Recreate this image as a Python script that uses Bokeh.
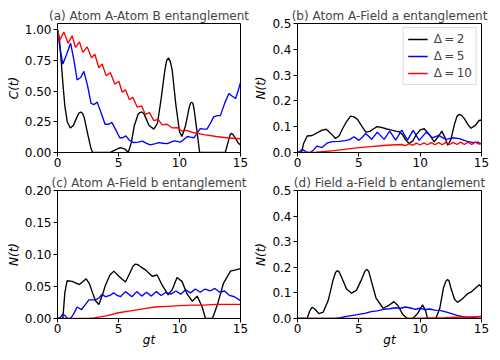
from bokeh.plotting import figure
from bokeh.layouts import gridplot
from bokeh.models import Range1d, FixedTicker, PrintfTickFormatter, Legend, LegendItem
from bokeh.embed import file_html
from bokeh.resources import INLINE

FONT = "DejaVu Sans"
NAN = float("nan")

# ---------------- data ----------------
# (a) Atom A - Atom B entanglement, C(t)
a_k_t = [0, 0.15, 0.3, 0.45, 0.6, 0.8, 1.05, 1.3, 1.6, 1.75, 1.9, 2.05, 2.2, 2.5, 2.75, 2.88, 4.3, 4.7, 5.15, 5.5, 5.8,
         6.05, 6.3, 6.6, 6.75, 6.9, 7.05, 7.2, 7.5, 7.9, 8.2, 8.5, 8.8, 8.95, 9.1, 9.25, 9.4, 9.7, 10.0, 10.2, 10.5,
         10.8, 10.9, 11.0, 11.1, 11.2, 11.45, 11.65, 13.75, 14.0, 14.15, 14.25, 14.35, 14.5, 14.8, 15.0]
a_k_v = [1.0, 0.93, 0.75, 0.55, 0.38, 0.25, 0.2, 0.22, 0.29, 0.32, 0.33, 0.32, 0.28, 0.14, 0.03, 0.0, 0.0, 0.02, 0.04, 0.03, 0.0,
         0.08, 0.22, 0.31, 0.325, 0.33, 0.32, 0.29, 0.22, 0.19, 0.24, 0.44, 0.67, 0.75, 0.77, 0.74, 0.67, 0.39, 0.17, 0.13, 0.22,
         0.37, 0.4, 0.41, 0.4, 0.35, 0.16, 0.0, 0.0, 0.09, 0.145, 0.155, 0.15, 0.13, 0.08, 0.06]
a_b_t = [0, 0.2, 0.44, 0.75, 1.07, 1.35, 1.61, 1.9, 2.16, 2.45, 2.75, 3.0, 3.25, 3.55, 3.9, 4.2, 4.45, 4.8,
         5.1, 5.35, 5.6, 5.9, 6.25, 6.6, 6.95, 7.3, 7.6, 7.95, 8.3, 8.65, 9.0, 9.3, 9.55, 9.8, 10.1, 10.4,
         10.65, 10.9, 11.2, 11.45, 11.7, 12.0, 12.25, 12.55, 12.8, 13.1, 13.35, 13.7, 14.05, 14.3, 14.6, 14.8, 15.0]
a_b_v = [1.0, 0.85, 0.72, 0.8, 0.89, 0.75, 0.59, 0.61, 0.66, 0.55, 0.4, 0.39, 0.41, 0.33, 0.23, 0.23, 0.245, 0.18,
         0.12, 0.12, 0.135, 0.1, 0.08, 0.085, 0.092, 0.075, 0.062, 0.07, 0.08, 0.075, 0.072, 0.085, 0.094, 0.09, 0.085, 0.11,
         0.13, 0.125, 0.12, 0.16, 0.195, 0.19, 0.19, 0.24, 0.29, 0.3, 0.3, 0.4, 0.48, 0.46, 0.44, 0.5, 0.57]
a_r_t = [0, 0.16, 0.52, 0.87, 1.2, 1.48, 1.8, 2.08, 2.43, 2.79, 3.06, 3.39, 3.66, 3.99, 4.34, 4.7, 5.03, 5.3,
         5.57, 5.9, 6.17, 6.53, 6.89, 7.2, 7.54, 7.9, 8.25, 8.58, 8.99, 9.4, 9.8, 10.2, 10.6, 11.0, 11.6, 12.0,
         13.0, 14.0, 15.0]
a_r_v = [1.0, 0.91, 0.98, 0.89, 0.95, 0.855, 0.9, 0.815, 0.86, 0.77, 0.8, 0.69, 0.72, 0.625, 0.65, 0.556, 0.58, 0.49,
         0.51, 0.43, 0.45, 0.37, 0.38, 0.31, 0.325, 0.26, 0.27, 0.225, 0.23, 0.2, 0.203, 0.175, 0.18, 0.165, 0.154, 0.145,
         0.13, 0.118, 0.112]

# (b) Atom A - Field a entanglement, N(t)
b_k_t = [0, 0.33, 0.5, 0.79, 1.2, 1.74, 2.0, 2.34, 2.7, 3.1, 3.4, 3.65, 4.0, 4.33, 4.6, 4.88, 5.2, 5.56, 5.9,
         6.2, 6.5, 6.85, 7.2, 7.6, 8.0, 8.3, 8.55, 8.8, 9.1, 9.4, 9.7, 10.0, 10.33, 10.74, 11.14, 11.45, 11.77,
         12.0, 12.25, 12.5, 12.8, 13.0, 13.19, 13.4, 13.6, 13.9, 14.14, 14.5, 14.8, 15.0]
b_k_v = [0, 0, 0.035, 0.064, 0.066, 0.08, 0.087, 0.09, 0.075, 0.054, 0.065, 0.09, 0.12, 0.141, 0.138, 0.129, 0.105, 0.079, 0.082,
         0.092, 0.1, 0.097, 0.092, 0.088, 0.083, 0.08, 0.07, 0.05, 0.035, 0.045, 0.07, 0.088, 0.092, 0.07, 0.041, 0.06, 0.083,
         0.06, 0.028, 0.05, 0.11, 0.14, 0.148, 0.143, 0.131, 0.108, 0.094, 0.105, 0.124, 0.126]
b_b_t = [0, 0.2, 0.38, 0.6, 0.8, 1.06, 1.35, 1.6, 2.0, 2.4, 2.83, 3.4, 3.9, 4.25, 4.6, 5.0, 5.3, 5.56, 6.05,
         6.5, 7.06, 7.52, 8.0, 8.5, 8.96, 9.43, 9.92, 10.5, 11.0, 11.5, 12.1, 12.64, 13.2, 13.7, 14.3, 14.7, 15.0]
b_b_v = [0, 0.005, 0.012, 0.006, 0, 0, 0.012, 0.025, 0.019, 0.036, 0.042, 0.043, 0.046, 0.05, 0.061, 0.047, 0.06, 0.074, 0.051,
         0.079, 0.051, 0.083, 0.048, 0.087, 0.048, 0.086, 0.047, 0.079, 0.057, 0.066, 0.051, 0.057, 0.054, 0.045, 0.038, 0.04, 0.032]
b_r_t = [0, 1.0, 1.5, 2.0, 3.0, 4.0, 5.0, 6.0, 7.0, 8.0, 8.5, 8.8, 9.1, 9.4, 9.7, 10.0, 10.3, 10.6, 10.9,
         11.2, 11.5, 11.8, 12.1, 12.4, 12.7, 13.0, 13.3, 13.6, 13.9, 14.2, 14.5, 14.8, 15.0]
b_r_v = [0, 0, 0.001, 0.003, 0.007, 0.013, 0.019, 0.023, 0.027, 0.03, 0.031, 0.027, 0.034, 0.028, 0.036, 0.029, 0.037, 0.03, 0.038,
         0.03, 0.038, 0.03, 0.039, 0.031, 0.039, 0.031, 0.04, 0.031, 0.04, 0.031, 0.04, 0.032, 0.036]

# (c) Atom A - Field b entanglement, N(t)
c_k_t = [0, 0.44, 0.6, 0.79, 1.2, 1.8, 2.35, 2.6, 2.84, 3.1, 3.39, 3.65, 3.93, 4.3, 4.62, 5.03, 5.57, 5.9,
         6.2, 6.39, 6.6, 6.8, 7.2, 7.76, 8.17, 8.58, 9.07, 9.4, 9.8, 10.2, 10.63, 11.04, 11.45, 11.86, 12.13, 12.7, 13.1,
         13.6, 14.18, 14.6, 15.0]
c_k_v = [0, 0, 0.04, 0.059, 0.058, 0.053, 0.062, 0.055, 0.042, 0.028, 0.022, 0.035, 0.052, 0.068, 0.074, 0.066, 0.057, 0.07,
         0.082, 0.085, 0.084, 0.081, 0.076, 0.066, 0.068, 0.052, 0.037, 0.045, 0.064, 0.058, 0.038, 0.027, 0.035, 0.018, 0, 0, 0.021,
         0.055, 0.074, 0.076, 0.078]
c_b_t = [0, 0.25, 0.44, 0.65, 0.8, 1.07, 1.35, 1.6, 1.97, 2.3, 2.57, 3.1, 3.4, 3.66, 3.93, 4.3, 4.6, 4.9, 5.16,
         5.57, 6.1, 6.5, 6.9, 7.3, 7.7, 8.1, 8.5, 8.9, 9.3, 9.7, 10.1, 10.5, 10.9, 11.3, 11.7, 12.1, 12.5, 12.9,
         13.3, 13.7, 14.1, 14.5, 15.0]
c_b_v = [0, 0.002, 0.007, 0.004, 0, 0, 0.008, 0.018, 0.014, 0.022, 0.029, 0.029, 0.032, 0.038, 0.034, 0.036, 0.04, 0.036, 0.034,
         0.042, 0.034, 0.042, 0.035, 0.041, 0.035, 0.042, 0.036, 0.041, 0.038, 0.043, 0.038, 0.045, 0.04, 0.046, 0.041, 0.046, 0.043, 0.047,
         0.041, 0.043, 0.036, 0.034, 0.028]
c_r_t = [0, 2.5, 3.0, 4.0, 5.0, 6.0, 7.0, 8.0, 9.0, 10.0, 11.0, 12.0, 13.0, 14.0, 15.0]
c_r_v = [0, 0, 0.001, 0.004, 0.009, 0.012, 0.015, 0.018, 0.019, 0.02, 0.021, 0.021, 0.022, 0.022, 0.022]

# (d) Field a - Field b entanglement, N(t)
d_k_t = [0, 0.79, 1.0, 1.2, 1.45, 1.74, 2.1, 2.5, 2.9, 3.1, 3.24, 3.4, 3.6, 4.0, 4.41, 4.8, 5.2, 5.5, 5.64, 5.8, 6.0, 6.4, 6.98,
         7.4, 7.87, 8.2, 8.56, 8.96, 9.4, 9.8, 10.19, 10.45, 10.6, 11.28, 11.6, 11.9, 12.1, 12.23, 12.35, 12.5, 12.8, 13.05,
         13.4, 13.87, 14.2, 14.5, 14.82, 15.0]
d_k_v = [0, 0, 0.03, 0.044, 0.035, 0.019, 0.025, 0.07, 0.15, 0.18, 0.187, 0.182, 0.16, 0.115, 0.099, 0.11, 0.15, 0.185, 0.192, 0.185, 0.15, 0.08, 0.04,
         0.05, 0.066, 0.05, 0.017, 0.0, 0.0, 0.02, 0.053, 0.03, 0, 0, 0.04, 0.12, 0.146, 0.152, 0.147, 0.12, 0.075, 0.063,
         0.075, 0.097, 0.105, 0.118, 0.132, 0.123]
d_b_t = [0, 3.0, 3.5, 4.0, 4.5, 5.0, 5.5, 6.0, 6.5, 7.0, 7.5, 8.0, 8.4, 8.8, 9.2, 9.6, 10.0, 10.4, 10.8,
         11.2, 11.6, 12.0, 12.5, 13.0, 13.5, 14.0, 14.5, 15.0]
d_b_v = [0, 0, 0.003, 0.008, 0.012, 0.016, 0.02, 0.027, 0.03, 0.036, 0.038, 0.042, 0.04, 0.045, 0.041, 0.036, 0.04, 0.035, 0.037,
         0.033, 0.032, 0.027, 0.02, 0.012, 0.007, 0.004, 0.002, 0.0]
d_r_t = [0, 9.0, 10.0, 11.0, 12.0, 13.0, 14.0, 15.0]
d_r_v = [0, 0.0, 0.001, 0.002, 0.003, 0.005, 0.006, 0.008]

x_ticks = [0, 5, 10, 15]
legend_labels = ["Δ\u2009=\u20092", "Δ\u2009=\u20095", "Δ\u2009=\u200910"]
colors = ["#000000", "#0000ff", "#ff0000"]


def make_fig(width, height, left, right, top, bottom, yr, yticks, yfmt, ylabel, title, xlabel=None):
    p = figure(width=width, height=height, x_range=Range1d(0, 15), y_range=Range1d(*yr),
               output_backend="svg", toolbar_location=None,
               min_border_left=left, min_border_right=right,
               min_border_top=top, min_border_bottom=bottom)
    p.title.text = title
    p.title.align = "center"
    p.title.text_font = FONT
    p.title.text_font_size = "12px"
    p.title.text_font_style = "normal"
    p.title.standoff = 1
    p.title.offset = 0
    p.grid.visible = False
    p.outline_line_color = "black"
    p.outline_line_alpha = 1
    p.outline_line_width = 1
    p.xaxis.ticker = FixedTicker(ticks=x_ticks)
    p.yaxis.ticker = FixedTicker(ticks=yticks)
    p.yaxis.formatter = PrintfTickFormatter(format=yfmt)
    for ax in p.xaxis + p.yaxis:
        ax.minor_tick_line_color = None
        ax.major_tick_in = 0
        ax.major_tick_out = 4
        ax.major_label_standoff = 2
        ax.major_label_text_font = FONT
        ax.major_label_text_font_size = "12px"
        ax.major_label_text_color = "black"
        ax.axis_line_color = "black"
        ax.major_tick_line_color = "black"
        ax.axis_label_text_font = FONT
        ax.axis_label_text_font_size = "12px"
        ax.axis_label_text_font_style = "italic"
        ax.axis_label_text_color = "black"
        ax.axis_label_standoff = 1
    p.xaxis.major_label_standoff = 1
    p.xaxis.axis_label_standoff = -3
    p.yaxis.axis_label = ylabel
    if xlabel:
        p.xaxis.axis_label = xlabel
    p.background_fill_color = "white"
    p.border_fill_color = "white"
    return p


def draw(p, series):
    for (t, v), c in zip(series, colors):
        p.line(t, v, line_color=c, line_width=1.35)


pa = make_fig(250, 170, 57, 10, 23, 18, (0, 1.05), [0, 0.25, 0.5, 0.75, 1.0], "%.2f", "C(t)",
              "(a) Atom A-Atom B entanglement")
pb = make_fig(250, 170, 47, 19, 23, 18, (0, 0.5), [0, 0.1, 0.2, 0.3, 0.4, 0.5], "%.1f", "N(t)",
              "(b) Atom A-Field a entanglement")
pc = make_fig(250, 190, 57, 10, 20, 42, (0, 0.2), [0, 0.05, 0.1, 0.15, 0.2], "%.2f", "N(t)",
              "(c) Atom A-Field b entanglement", "gt")
pd = make_fig(250, 190, 47, 19, 20, 42, (0, 0.5), [0, 0.1, 0.2, 0.3, 0.4, 0.5], "%.1f", "N(t)",
              "(d) Field a-Field b entanglement", "gt")

draw(pa, [(a_k_t, a_k_v), (a_b_t, a_b_v), (a_r_t, a_r_v)])
draw(pb, [(b_k_t, b_k_v), (b_b_t, b_b_v), (b_r_t, b_r_v)])
draw(pc, [(c_k_t, c_k_v), (c_b_t, c_b_v), (c_r_t, c_r_v)])
draw(pd, [(d_k_t, d_k_v), (d_b_t, d_b_v), (d_r_t, d_r_v)])

# legend proxies: one-row segment renderers with NaN coordinates (never drawn in the plot),
# carrying only the line style shown in the legend
proxies = [pb.segment(x0=[NAN], y0=[NAN], x1=[NAN], y1=[NAN], line_color=c, line_width=1.35)
           for c in colors]
legend = Legend(items=[LegendItem(label=l, renderers=[r], index=0) for l, r in zip(legend_labels, proxies)],
                location="top_right")
legend.label_text_font = FONT
legend.label_text_font_size = "12px"
legend.glyph_width = 20
legend.glyph_height = 12
legend.label_height = 12
legend.label_standoff = 6
legend.spacing = 3
legend.padding = 4
legend.margin = 4
legend.border_line_color = "#bbbbbb"
legend.border_line_width = 1
legend.background_fill_alpha = 0.9
pb.add_layout(legend)

grid = gridplot([[pa, pb], [pc, pd]], toolbar_location=None)

open("out.html", "w").write(file_html(grid, INLINE))
